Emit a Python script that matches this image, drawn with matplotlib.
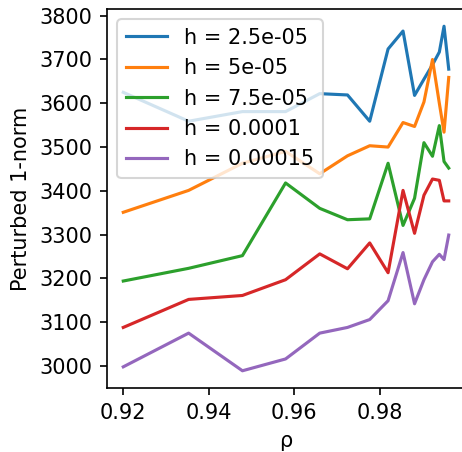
import matplotlib
matplotlib.use("Agg")
import matplotlib.pyplot as plt

rho = [0.92, 0.9353, 0.9479, 0.958, 0.966, 0.9725, 0.9777, 0.982,
       0.9855, 0.9882, 0.9904, 0.9924, 0.994, 0.9951, 0.9962]

h_labels = ["h = 2.5e-05", "h = 5e-05", "h = 7.5e-05", "h = 0.0001", "h = 0.00015"]

norm_h1 = [3625, 3559, 3581, 3581, 3622, 3619, 3559, 3724, 3765, 3618, 3655, 3688, 3717, 3776, 3678]
norm_h2 = [3351, 3401, 3463, 3490, 3439, 3480, 3503, 3500, 3556, 3547, 3603, 3700, 3600, 3534, 3659]
norm_h3 = [3194, 3223, 3252, 3418, 3360, 3334, 3336, 3463, 3321, 3383, 3510, 3479, 3549, 3467, 3452]
norm_h4 = [3088, 3152, 3161, 3197, 3256, 3222, 3281, 3213, 3401, 3303, 3390, 3427, 3424, 3377, 3377]
norm_h5 = [2998, 3075, 2989, 3016, 3075, 3088, 3106, 3149, 3259, 3142, 3197, 3238, 3255, 3243, 3299]

dpi = 150
fig = plt.figure(figsize=(462 / dpi, 452 / dpi), dpi=dpi)
ax = fig.add_axes([107 / 462, 64 / 452, 358 / 462, 379 / 452])

for lab, vals in zip(h_labels, [norm_h1, norm_h2, norm_h3, norm_h4, norm_h5]):
    ax.plot(rho, vals, label=lab)

ax.set_xlabel("ρ")
ax.set_ylabel("Perturbed 1-norm")
ax.set_xticks([0.92, 0.94, 0.96, 0.98])
ax.legend(loc="upper left")

fig.savefig("out.png", dpi=dpi)
